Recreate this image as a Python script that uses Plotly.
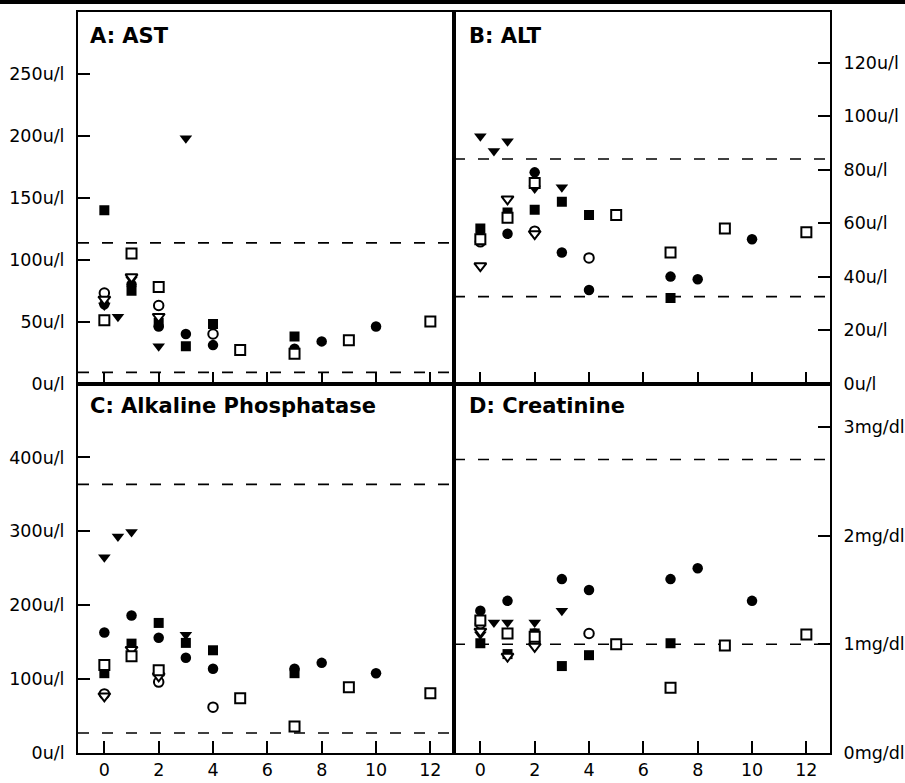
import plotly.graph_objects as go

W, H = 905, 783

# ---- data ----
fc_x = [0, 1, 2, 3, 4, 7, 8, 10]
fc_A = [64, 80, 46, 40, 31, 28, 34, 46]
fc_B = [55, 56, 79, 49, 35, 40, 39, 54]
fc_C = [163, 186, 156, 129, 114, 114, 122, 108]
fc_D = [1.31, 1.40, 1.10, 1.60, 1.50, 1.60, 1.70, 1.40]

oc_x = [0, 2, 4]
oc_A = [73, 63, 40]
oc_B = [53, 57, 47]
oc_C = [80, 96, 62]
oc_D = [1.19, 1.02, 1.10]

ft_x = [0, 0.5, 1, 2, 3]
ft_A = [63, 54, 84, 30, 198]
ft_B = [92.5, 87, 90.6, 73, 73.4]
ft_C = [265, 293, 299, 105, 160]
ft_D = [1.09, 1.2, 1.2, 1.2, 1.31]

ot_x = [0, 1, 2]
ot_A = [68, 86, 54]
ot_B = [44, 69, 56]
ot_C = [77, 140, 104]
ot_D = [1.12, 0.89, 0.98]

fs_x = [0, 1, 2, 3, 4, 7]
fs_A = [140, 75, 49, 30, 48, 38]
fs_B = [58, 64, 65, 68, 63, 32]
fs_C = [108, 148, 176, 149, 139, 108]
fs_D = [1.01, 0.91, 1.10, 0.80, 0.90, 1.01]

os_x = [0, 1, 2, 5, 7, 9, 12]
os_A = [51, 105, 78, 27, 24, 35, 50]
os_B = [54, 62, 75, 63, 49, 58, 56.6]
os_C = [119, 131, 112, 74, 36, 89, 81]
os_D = [1.22, 1.10, 1.07, 1.00, 0.60, 0.99, 1.09]

# normal range limits (dashed lines)
ref_A = [9, 113.6]
ref_B = [32.5, 84]
ref_C = [27, 363.5]
ref_D = [1.0, 2.70]

panel_titles = ["A: AST", "B: ALT", "C: Alkaline Phosphatase", "D: Creatinine"]

xticks = [0, 2, 4, 6, 8, 10, 12]
yt_A = [0, 50, 100, 150, 200, 250]
yt_B = [0, 20, 40, 60, 80, 100, 120]
yt_C = [0, 100, 200, 300, 400]
yt_D = [0, 1, 2, 3]
unit_ul = "u/l"
unit_mg = "mg/dl"

# ---- layout geometry ----
def px_x(p):
    return p / W

def px_y(p):
    return 1 - p / H

xl, xm, xr = 78, 454, 830
yt, ym, yb = 12, 383.5, 753

FONT = "DejaVu Sans, Verdana, sans-serif"

fig = go.Figure()

series = [
    (fc_x, [fc_A, fc_B, fc_C, fc_D], "circle", "black", 0, 10.5),
    (ft_x, [ft_A, ft_B, ft_C, ft_D], "triangle-down", "black", 0, 11),
    (fs_x, [fs_A, fs_B, fs_C, fs_D], "square", "black", 0, 10),
    (oc_x, [oc_A, oc_B, oc_C, oc_D], "circle", "white", 2, 9.5),
    (ot_x, [ot_A, ot_B, ot_C, ot_D], "triangle-down", "white", 2, 10.5),
    (os_x, [os_A, os_B, os_C, os_D], "square", "white", 2, 10),
]
axes = [("x", "y"), ("x2", "y2"), ("x3", "y3"), ("x4", "y4")]

for xs, ys4, sym, fill, lw, sz in series:
    for (xa, ya), ys in zip(axes, ys4):
        fig.add_trace(go.Scatter(
            x=xs, y=ys, mode="markers", xaxis=xa, yaxis=ya,
            marker=dict(symbol=sym, size=sz,
                        color=fill, line=dict(color="black", width=lw)),
            showlegend=False, hoverinfo="skip"))

xrange = [-0.97, 12.87]
common_x = dict(range=xrange, tickvals=xticks, ticks="inside", ticklen=12,
                tickwidth=1.5, tickcolor="black", showline=True, linecolor="black",
                linewidth=2, mirror=True, showgrid=False, zeroline=False,
                tickfont=dict(family=FONT, size=17.5, color="black"),
                ticklabelstandoff=0, automargin=False)
common_y = dict(ticks="inside", ticklen=12, tickwidth=1.5, tickcolor="black",
                showline=True, linecolor="black", linewidth=2, mirror=True,
                showgrid=False, zeroline=False,
                tickfont=dict(family=FONT, size=17.5, color="black"),
                ticklabelstandoff=8, automargin=False)

dom_xL = [px_x(xl), px_x(xm)]
dom_xR = [px_x(xm), px_x(xr)]
dom_yT = [px_y(ym), px_y(yt)]
dom_yB = [px_y(yb), px_y(ym)]

fig.update_layout(
    width=W, height=H, margin=dict(l=0, r=0, t=0, b=0, autoexpand=False),
    paper_bgcolor="white", plot_bgcolor="white",
    xaxis=dict(domain=dom_xL, anchor="y", showticklabels=False, **common_x),
    xaxis2=dict(domain=dom_xR, anchor="y2", showticklabels=False, **common_x),
    xaxis3=dict(domain=dom_xL, anchor="y3", **common_x),
    xaxis4=dict(domain=dom_xR, anchor="y4", **common_x),
    yaxis=dict(domain=dom_yT, anchor="x", range=[0, 300], side="left",
               tickvals=yt_A, ticktext=[f"{v}{unit_ul}" for v in yt_A], **common_y),
    yaxis2=dict(domain=dom_yT, anchor="x2", range=[0, 139], side="right",
                tickvals=yt_B, ticktext=[f"{v}{unit_ul}" for v in yt_B], **common_y),
    yaxis3=dict(domain=dom_yB, anchor="x3", range=[0, 500], side="left",
                tickvals=yt_C, ticktext=[f"{v}{unit_ul}" for v in yt_C], **common_y),
    yaxis4=dict(domain=dom_yB, anchor="x4", range=[0, 3.4], side="right",
                tickvals=yt_D, ticktext=[f"{v}{unit_mg}" for v in yt_D], **common_y),
)

# dashed normal-range lines
for (xa, ya), refs in zip(axes, [ref_A, ref_B, ref_C, ref_D]):
    for r in refs:
        fig.add_shape(type="line", xref=f"{xa} domain", yref=ya, x0=0, x1=1, y0=r, y1=r,
                      line=dict(color="black", width=1.6, dash="11px,13px"), layer="below")

# panel titles
title_pos = [(xl + 10, yt + 24), (xm + 13, yt + 24), (xl + 10, ym + 22), (xm + 13, ym + 22)]
for t, (tx, ty) in zip(panel_titles, title_pos):
    fig.add_annotation(text=f"<b>{t}</b>", xref="paper", yref="paper",
                       x=px_x(tx), y=px_y(ty), xanchor="left", yanchor="middle",
                       showarrow=False, font=dict(family=FONT, size=21, color="black"))

# black bar at the top of the page
fig.add_shape(type="rect", xref="paper", yref="paper", x0=0, x1=1,
              y0=px_y(4), y1=1, fillcolor="black", line=dict(width=0))

fig.write_html(
    "out.html",
    config={"displayModeBar": False},
    post_script="document.body.style.margin='0';document.body.style.padding='0';"
                "document.body.style.overflow='hidden';",
)
